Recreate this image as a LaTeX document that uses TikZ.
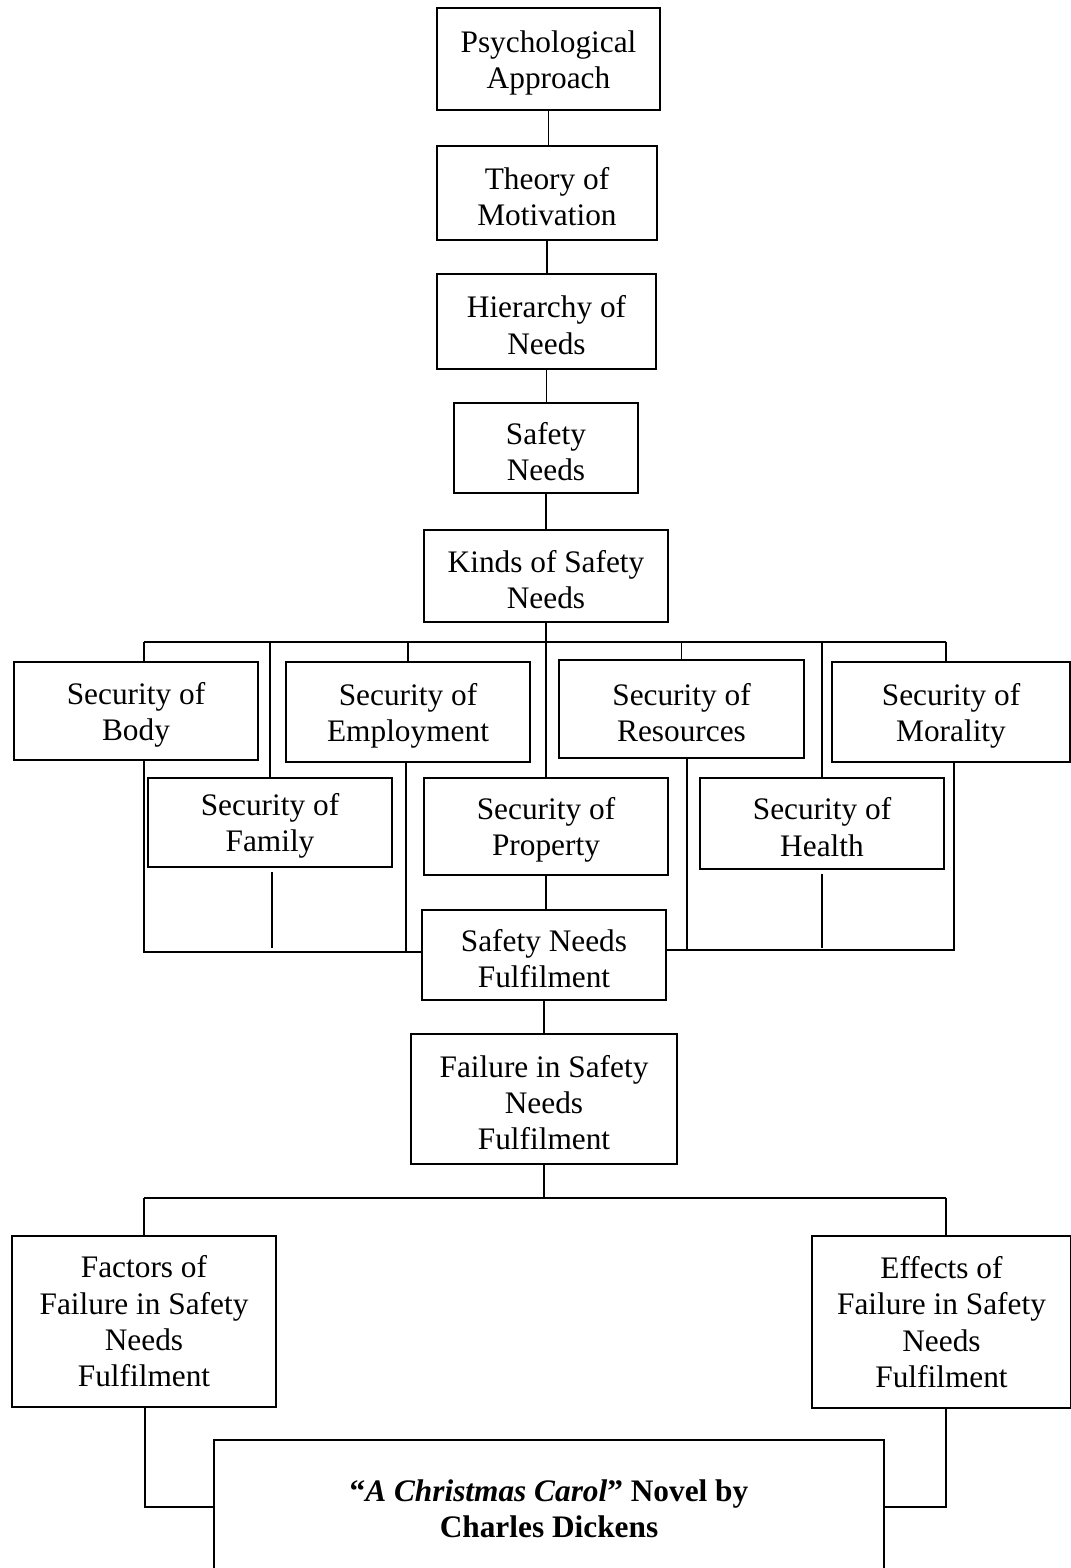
\documentclass[tikz,border=0pt]{standalone}
\usepackage{fontspec}
\setmainfont{Liberation Serif}
\begin{document}
\begin{tikzpicture}[x=0.75pt,y=-0.75pt,
  bx/.style={draw,line width=1.5pt,align=center,inner sep=0pt,
    font=\fontsize{23.5}{27.3}\selectfont},
  conn/.style={line width=0.8pt}]
\useasboundingbox (0,0) rectangle (1071,1568);
\clip (0,0) rectangle (1071,1568);
\def\sp{\rule{0pt}{22pt}}
% top chain
\node[bx,minimum width=167.25pt,minimum height=76.5pt] (psy) at (548.5,59) {\sp Psychological\\Approach};
\node[bx,minimum width=165pt,minimum height=70.5pt] (the) at (547,193) {\sp Theory of\\Motivation};
\node[bx,minimum width=164.25pt,minimum height=71.25pt] (hie) at (546.5,321.5) {\sp Hierarchy of\\Needs};
\node[bx,minimum width=138pt,minimum height=67.5pt] (saf) at (546,448) {\sp Safety\\Needs};
\node[bx,minimum width=183pt,minimum height=69pt] (kin) at (546,576) {\sp Kinds of Safety\\Needs};
% row 1
\node[bx,minimum width=183pt,minimum height=73.5pt] (bod) at (136,711) {\sp Security of\\Body};
\node[bx,minimum width=183pt,minimum height=75pt] (emp) at (408,712) {\sp Security of\\Employment};
\node[bx,minimum width=183.75pt,minimum height=73.5pt] (res) at (681.5,709) {\sp Security of\\Resources};
\node[bx,minimum width=178.5pt,minimum height=75pt] (mor) at (951,712) {\sp Security of\\Morality};
% row 2
\node[bx,minimum width=183pt,minimum height=66.75pt] (fam) at (270,822.5) {\sp Security of\\Family};
\node[bx,minimum width=183pt,minimum height=72.75pt] (pro) at (546,826.5) {\sp Security of\\Property};
\node[bx,minimum width=183pt,minimum height=68.25pt] (hea) at (822,823.5) {\sp Security of\\Health};
% lower
\node[bx,minimum width=183pt,minimum height=67.5pt] (ful) at (544,955) {\sp Safety Needs\\Fulfilment};
\node[bx,minimum width=199.5pt,minimum height=97.5pt] (fai) at (544,1099) {\sp Failure in Safety\\Needs\\Fulfilment};
\node[bx,minimum width=198pt,minimum height=128.25pt] (fac) at (144,1321.5) {Factors of\\Failure in Safety\\Needs\\Fulfilment};
\node[bx,minimum width=194.25pt,minimum height=129pt] (eff) at (941.5,1322) {Effects of\\Failure in Safety\\Needs\\Fulfilment};
\node[bx,minimum width=502.5pt,minimum height=103.5pt] (nov) at (549,1509) {\bfseries “\textit{A Christmas Carol}” Novel by\\\bfseries Charles Dickens};
% coordinates
\coordinate (b1) at (546,642);
\coordinate (b1l) at (144,642);
\coordinate (b1r) at (946,642);
\coordinate (b2l) at (144,952);
\coordinate (b2e) at (406,952);
\coordinate (b2f) at (272,948);
\coordinate (b2r) at (954,950);
\coordinate (b2s) at (687,950);
\coordinate (b2h) at (822,948);
\coordinate (b3) at (544,1198);
\coordinate (b3l) at (144,1198);
\coordinate (b3r) at (946,1198);
\coordinate (b4l) at (145,1507);
\coordinate (b4r) at (946,1507);
% connectors top chain
\draw[conn] (psy.south) -- (psy.south |- the.north);
\draw[conn] (the.south) -- (the.south |- hie.north);
\draw[conn] (hie.south) -- (hie.south |- saf.north);
\draw[conn] (saf.south) -- (saf.south |- kin.north);
\draw[conn] (kin.south) -- (b1);
\draw[conn] (b1l) -- (b1r);
\draw[conn] (b1l) -- (b1l |- bod.north);
\draw[conn] (b1r) -- (b1r |- mor.north);
\draw[conn] (b1 -| emp.north) -- (emp.north);
\draw[conn] (b1 -| res.north) -- (res.north);
\draw[conn] (b1 -| fam.north) -- (fam.north);
\draw[conn] (b1) -- (pro.north);
\draw[conn] (b1 -| hea.north) -- (hea.north);
% lower bus
\draw[conn] (b2l |- bod.south) -- (b2l) -- (b2l -| ful.west);
\draw[conn] (b2e |- emp.south) -- (b2e);
\draw[conn] ([yshift=-3pt]b2f |- fam.south) -- (b2f);
\draw[conn] (b2r |- mor.south) -- (b2r) -- (b2r -| ful.east);
\draw[conn] (b2s |- res.south) -- (b2s);
\draw[conn] ([yshift=-3pt]b2h |- hea.south) -- (b2h);
\draw[conn] (pro.south) -- (pro.south |- ful.north);
\draw[conn] (ful.south) -- (ful.south |- fai.north);
\draw[conn] (fai.south) -- (b3);
\draw[conn] (b3l) -- (b3r);
\draw[conn] (b3l) -- (b3l |- fac.north);
\draw[conn] (b3r) -- (b3r |- eff.north);
\draw[conn] (b4l |- fac.south) -- (b4l) -- (nov.west |- b4l);
\draw[conn] (b4r |- eff.south) -- (b4r) -- (nov.east |- b4r);
\end{tikzpicture}
\end{document}
